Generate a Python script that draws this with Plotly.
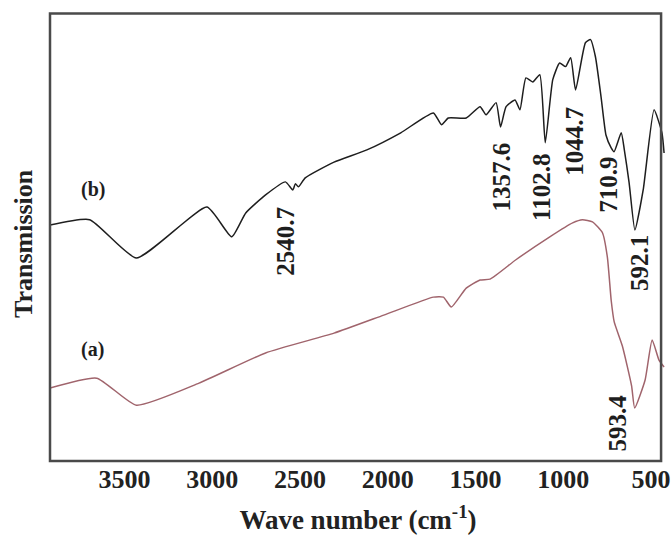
import plotly.graph_objects as go

# FTIR spectra: wavenumber (cm-1) vs. transmission (arbitrary units)
wn_b = [3924, 3698, 3432, 3030, 2889, 2809, 2696, 2583, 2540.7, 2526, 2509,
        2470, 2306, 2119, 1926, 1740, 1694, 1655, 1553, 1474, 1440, 1383,
        1357.6, 1326, 1275, 1247, 1213, 1174, 1134, 1102.8, 1060, 1021, 987,
        958, 930, 874, 845, 817, 785, 757, 728, 710.9, 670, 653, 625, 592.1,
        545, 483, 438, 426]
tr_b = [52.4, 53.6, 45.1, 56.4, 49.8, 55.1, 59.1, 62.0, 60.2, 61.6, 60.9,
        62.9, 66.4, 69.1, 72.9, 77.3, 74.7, 76.2, 76.2, 78.7, 76.9, 79.6,
        74.2, 78.7, 80.2, 78.0, 85.1, 84.2, 85.8, 70.7, 84.7, 88.4, 87.6,
        89.6, 82.4, 92.9, 93.6, 89.8, 80.9, 72.4, 69.6, 68.7, 72.9, 69.3,
        61.8, 51.3, 60.2, 78.0, 72.9, 68.4]

wn_a = [3924, 3658, 3432, 3075, 2696, 2306, 2023, 1740, 1683, 1638, 1553,
        1474, 1417, 1270, 1077, 947, 891, 834, 777, 749, 727, 710, 664, 611,
        593.4, 534, 494, 455, 426]
tr_a = [16.2, 18.4, 12.4, 17.3, 24.0, 28.4, 32.4, 36.4, 36.4, 34.2, 38.4,
        40.2, 40.4, 44.7, 49.8, 52.9, 53.6, 53.1, 50.7, 45.3, 35.6, 30.9,
        25.6, 16.7, 11.8, 18.0, 26.9, 22.4, 20.9]

# Labelled absorption bands: text, wavenumber of the band, transmission there
band_text = ["2540.7", "1357.6", "1102.8", "1044.7", "710.9", "592.1", "593.4"]
band_wn = [2540.7, 1357.6, 1102.8, 930, 710.9, 592.1, 593.4]
band_tr = [60.2, 74.2, 70.7, 82.4, 68.7, 51.3, 11.8]
# label offsets from the band (pixels)
band_dx = [-7, 1, -4, -2, -5, 4, -17]
band_dy = [-51, -50, -45, -51, -33, -33, -15]

series_names = ["(b)", "(a)"]
x_ticks = [3500, 3000, 2500, 2000, 1500, 1000, 500]

SERIF = "Liberation Serif"
INK = "#1e1e1e"
FRAME = "#4a4a4a"

fig = go.Figure()
fig.add_trace(go.Scatter(x=wn_a, y=tr_a, mode="lines", name=series_names[1],
                         line=dict(color="#a0646c", width=1.5, shape="spline", smoothing=0.5)))
fig.add_trace(go.Scatter(x=wn_b, y=tr_b, mode="lines", name=series_names[0],
                         line=dict(color=INK, width=1.5, shape="spline", smoothing=0.5)))

annotations = []
for t, x, y, dx, dy in zip(band_text, band_wn, band_tr, band_dx, band_dy):
    annotations.append(dict(x=x, y=y, text=t, showarrow=False, textangle=-90,
                            xshift=dx, yshift=dy, xanchor="center", yanchor="middle",
                            font=dict(family=SERIF, size=25, color=INK, weight="bold")))

# series tags
annotations.append(dict(x=3681, y=60.2, text=series_names[0], showarrow=False,
                        font=dict(family=SERIF, size=20, color=INK, weight="bold")))
annotations.append(dict(x=3681, y=24.7, text=series_names[1], showarrow=False,
                        font=dict(family=SERIF, size=20, color=INK, weight="bold")))

# vertical axis title
annotations.append(dict(xref="paper", yref="paper", x=-0.044, y=0.482,
                        text="Transmission", showarrow=False, textangle=-90,
                        xanchor="center", yanchor="middle",
                        font=dict(family=SERIF, size=26, color="#222", weight="bold")))

# frame around the plotting area
shapes = [dict(type="rect", xref="paper", yref="paper", x0=0, y0=0, x1=0.992, y1=0.990,
               line=dict(color=FRAME, width=2.5), layer="above")]

fig.update_layout(
    width=672, height=535,
    margin=dict(l=50, r=2, t=9, b=74),
    paper_bgcolor="white", plot_bgcolor="white",
    showlegend=False,
    annotations=annotations,
    shapes=shapes,
    xaxis=dict(range=[3924, 415], tickvals=x_ticks, ticks="", showgrid=False,
               zeroline=False, showline=False, ticklabeloverflow="allow",
               tickfont=dict(family=SERIF, size=26, color="#222", weight="bold"),
               title=dict(text="Wave number (cm<sup>-1</sup>)", standoff=17,
                          font=dict(family=SERIF, size=27, color="#222", weight="bold"))),
    yaxis=dict(range=[0, 100.4], showticklabels=False, ticks="", showgrid=False,
               zeroline=False, showline=False),
)

fig.write_html("out.html")
